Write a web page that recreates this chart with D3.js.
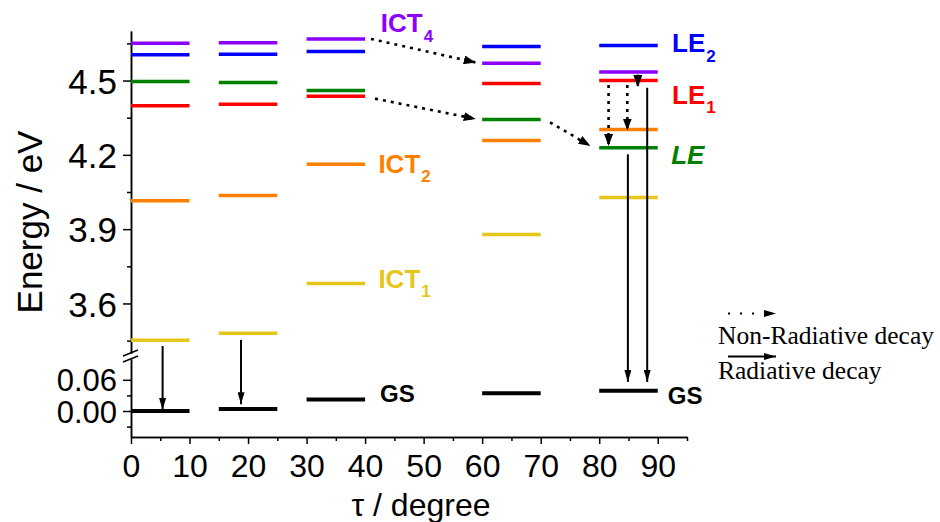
<!DOCTYPE html>
<html><head><meta charset="utf-8">
<script src="https://cdn.jsdelivr.net/npm/d3@7"></script>
<style>body{margin:0;background:#fff} svg{display:block}</style>
</head><body>
<script>
// ---------------- data ----------------
const columnStart = [0, 15, 30, 60, 80];   // torsion angle where each level bar starts
const columnWidth = 10;                     // each bar spans 10 degrees
const ict4 = [4.651, 4.653, 4.668, 4.570, 4.534];
const le2  = [4.604, 4.606, 4.617, 4.637, 4.641];
const leG  = [4.496, 4.492, 4.460, 4.343, 4.229];
const le1  = [4.398, 4.404, 4.437, 4.488, 4.500];
const ict2 = [4.015, 4.036, 4.162, 4.258, 4.302];
const ict1 = [3.451, 3.480, 3.681, 3.878, 4.028];
const gs   = [0.000, 0.004, 0.022, 0.034, 0.039];

const xTicks = [0, 10, 20, 30, 40, 50, 60, 70, 80, 90];
const xMinor = [5, 15, 25, 35, 45, 55, 65, 75, 85, 95];
const yTicksUpper = [3.6, 3.9, 4.2, 4.5];
const yMinorUpper = [3.45, 3.75, 4.05, 4.35, 4.65];
const yTicksLower = [0.00, 0.06];
const yMinorLower = [-0.03, 0.03];

// radiative decay arrows: from upper-scale energy to lower-scale (GS) energy
const radiativeX    = [5.4, 18.8, 84.9, 88.2];
const radiativeFrom = [3.428, 3.453, 4.202, 4.471];
const radiativeTo   = [0.002, 0.013, 0.056, 0.056];

// non-radiative (dotted) arrows, all on upper scale
const nrX1 = [41.0, 41.7, 71.6, 81.6, 84.8, 86.6];
const nrY1 = [4.668, 4.427, 4.331, 4.482, 4.482, 4.523];
const nrX2 = [58.9, 58.9, 78.5, 81.6, 84.8, 86.6];
const nrY2 = [4.573, 4.345, 4.236, 4.236, 4.298, 4.474];

const colors = {ict4:"#8B00FF", le2:"#0000FF", le:"#008000", le1:"#FF0000", ict2:"#FF8000", ict1:"#E6C619", gs:"#000000"};

// ---------------- setup ----------------
const W = 940, H = 522;
const svg = d3.select("body").append("svg").attr("width", W).attr("height", H)
  .style("font-family", "'Liberation Sans', Arial, sans-serif");

const x = d3.scaleLinear().domain([0, 95]).range([131, 687]);
const yUp = d3.scaleLinear().domain([3.4, 4.7]).range([353, 31]);
const yLo = d3.scaleLinear().domain([-0.05, 0.1]).range([437, 359]);

const defs = svg.append("defs");
function marker(id, len, half) {
  defs.append("marker").attr("id", id).attr("markerUnits", "userSpaceOnUse")
    .attr("viewBox", `0 ${-half} ${len} ${2*half}`).attr("refX", len).attr("refY", 0)
    .attr("markerWidth", len).attr("markerHeight", 2*half).attr("orient", "auto")
    .append("path").attr("d", `M0,${-half}L${len},0L0,${half}Z`).attr("fill", "#000");
}
marker("headNR", 12, 4.5);
marker("headR", 12, 3.5);
marker("headLeg", 12, 3.5);

// ---------------- axes ----------------
const axX = svg.append("g").attr("transform", `translate(0,${yLo.range()[0]})`)
  .call(d3.axisBottom(x).tickValues(xTicks).tickSize(7).tickSizeOuter(0).tickPadding(10).tickFormat(d3.format("d")));
svg.append("g").attr("transform", `translate(0,${yLo.range()[0]})`)
  .call(d3.axisBottom(x).tickValues(xMinor).tickSize(4).tickSizeOuter(0).tickFormat(""));

const axYU = svg.append("g").attr("transform", `translate(${x(0)},0)`)
  .call(d3.axisLeft(yUp).tickValues(yTicksUpper).tickSize(8).tickSizeOuter(0).tickPadding(6).tickFormat(d3.format(".1f")));
svg.append("g").attr("transform", `translate(${x(0)},0)`)
  .call(d3.axisLeft(yUp).tickValues(yMinorUpper).tickSize(4).tickSizeOuter(0).tickFormat(""));
const axYL = svg.append("g").attr("transform", `translate(${x(0)},0)`)
  .call(d3.axisLeft(yLo).tickValues(yTicksLower).tickSize(8).tickSizeOuter(0).tickPadding(6).tickFormat(d3.format(".2f")));
svg.append("g").attr("transform", `translate(${x(0)},0)`)
  .call(d3.axisLeft(yLo).tickValues(yMinorLower).tickSize(4).tickSizeOuter(0).tickFormat(""));

svg.selectAll(".domain, .tick line").attr("stroke", "#000").attr("stroke-width", 1.5);
axX.selectAll("text").attr("font-size", 32).attr("fill", "#000").attr("font-family", "'Liberation Sans', Arial, sans-serif");
axYU.selectAll("text").attr("font-size", 35).attr("fill", "#000").attr("dy", "0.36em").attr("font-family", "'Liberation Sans', Arial, sans-serif");
axYL.selectAll("text").attr("font-size", 31).attr("fill", "#000").attr("dy", "0.36em").attr("font-family", "'Liberation Sans', Arial, sans-serif");

// axis break marks
const bx = x(0), by = (yUp.range()[0] + yLo.range()[1]) / 2;
[-3, 3].forEach(o => {
  svg.append("line").attr("x1", bx - 8).attr("y1", by + o + 3).attr("x2", bx + 7).attr("y2", by + o - 3)
    .attr("stroke", "#000").attr("stroke-width", 1.5);
});

// axis titles
svg.append("text").attr("transform", `translate(42,${222}) rotate(-90)`).attr("text-anchor", "middle")
  .attr("font-size", 35).attr("fill", "#000").text("Energy / eV");
svg.append("text").attr("x", 421).attr("y", 516).attr("text-anchor", "middle")
  .attr("font-size", 32).attr("fill", "#000").text("τ / degree");

// ---------------- energy levels ----------------
const upperSeries = [
  {key:"ict1", vals:ict1}, {key:"ict2", vals:ict2}, {key:"le1", vals:le1},
  {key:"le", vals:leG}, {key:"le2", vals:le2}, {key:"ict4", vals:ict4}
];
upperSeries.forEach(s => {
  svg.append("g").selectAll("line").data(s.vals).join("line")
    .attr("x1", (d, i) => x(columnStart[i])).attr("x2", (d, i) => x(columnStart[i] + columnWidth))
    .attr("y1", d => yUp(d)).attr("y2", d => yUp(d))
    .attr("stroke", colors[s.key]).attr("stroke-width", 3.5);
});
svg.append("g").selectAll("line").data(gs).join("line")
  .attr("x1", (d, i) => x(columnStart[i])).attr("x2", (d, i) => x(columnStart[i] + columnWidth))
  .attr("y1", d => yLo(d)).attr("y2", d => yLo(d))
  .attr("stroke", colors.gs).attr("stroke-width", 4);

// ---------------- arrows ----------------
svg.append("g").selectAll("line").data(radiativeX).join("line")
  .attr("x1", d => x(d)).attr("x2", d => x(d))
  .attr("y1", (d, i) => yUp(radiativeFrom[i])).attr("y2", (d, i) => yLo(radiativeTo[i]))
  .attr("stroke", "#000").attr("stroke-width", 2).attr("marker-end", "url(#headR)");

svg.append("g").selectAll("line").data(nrX1).join("line")
  .attr("x1", d => x(d)).attr("y1", (d, i) => yUp(nrY1[i]))
  .attr("x2", (d, i) => x(nrX2[i])).attr("y2", (d, i) => yUp(nrY2[i]))
  .attr("stroke", "#000").attr("stroke-width", 2.6).attr("stroke-dasharray", "3,5")
  .attr("marker-end", "url(#headNR)");

// ---------------- state labels ----------------
const labels = [
  {t:"ICT", sub:"4", c:colors.ict4, col:2, v:ict4[2], dx:15.7, dy:-6.7, size:26, it:false, lower:false},
  {t:"ICT", sub:"2", c:colors.ict2, col:2, v:ict2[2], dx:13.3, dy:8.6, size:26, it:false, lower:false},
  {t:"ICT", sub:"1", c:colors.ict1, col:2, v:ict1[2], dx:13.3, dy:4.3, size:26, it:false, lower:false},
  {t:"GS", sub:"", c:"#000", col:2, v:gs[2], dx:15, dy:2, size:24, it:false, lower:true},
  {t:"LE", sub:"2", c:colors.le2, col:4, v:le2[4], dx:14.3, dy:6.7, size:26, it:false, lower:false},
  {t:"LE", sub:"1", c:colors.le1, col:4, v:le1[4], dx:14.3, dy:23.5, size:26, it:false, lower:false},
  {t:"LE", sub:"", c:colors.le, col:4, v:leG[4], dx:13.5, dy:16.4, size:26, it:true, lower:false},
  {t:"GS", sub:"", c:"#000", col:4, v:gs[4], dx:10, dy:13, size:24, it:false, lower:true}
];
labels.forEach(l => {
  const tx = svg.append("text")
    .attr("x", x(columnStart[l.col] + columnWidth) + l.dx)
    .attr("y", (l.lower ? yLo(l.v) : yUp(l.v)) + l.dy)
    .attr("fill", l.c).attr("font-weight", "bold").attr("font-size", l.size)
    .attr("font-style", l.it ? "italic" : "normal");
  tx.append("tspan").text(l.t);
  if (l.sub) tx.append("tspan").attr("font-size", 17).attr("dy", 9.4).attr("dx", 1).text(l.sub);
});

// ---------------- legend ----------------
const legendLabels = ["Non-Radiative decay", "Radiative decay"];
const legendDash = ["2,10", null];
const legendArrowY = [313.5, 356.5];
const legendTextY = [344.3, 379.3];
const lg = svg.append("g");
legendLabels.forEach((lab, i) => {
  lg.append("line").attr("x1", 728).attr("x2", 776).attr("y1", legendArrowY[i]).attr("y2", legendArrowY[i])
    .attr("stroke", "#000").attr("stroke-width", 2)
    .attr("stroke-dasharray", legendDash[i]).attr("marker-end", "url(#headLeg)");
  lg.append("text").attr("x", 718).attr("y", legendTextY[i])
    .attr("font-family", "'Liberation Serif', 'Times New Roman', serif").attr("font-size", 25.5)
    .attr("fill", "#000").text(lab);
});
</script>
</body></html>
